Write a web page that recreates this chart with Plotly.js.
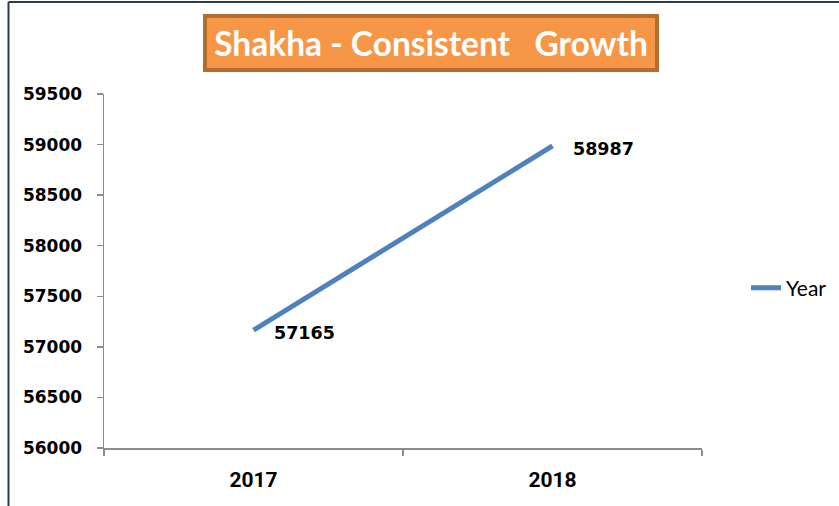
<!DOCTYPE html>
<html>
<head>
<meta charset="utf-8">
<script src="https://cdn.plot.ly/plotly-3.0.1.min.js"></script>
<style>
html,body{margin:0;padding:0;background:#fff;}
#chart{width:839px;height:506px;}
</style>
</head>
<body>
<div id="chart"></div>
<script>
const years = ["2017", "2018"];
const members = [57165, 58987];
const seriesName = "Year";
const chartTitle = "Shakha - Consistent   Growth";
const yTicks = [56000, 56500, 57000, 57500, 58000, 58500, 59000, 59500];

const W = 839, H = 506;
const M = {l: 104, r: 137, t: 94, b: 58, autoexpand: false};
const pw = W - M.l - M.r, ph = H - M.t - M.b;
const px = v => (v - M.l) / pw;
const py = v => (H - M.b - v) / ph;

const trace = {
  x: years, y: members, type: "scatter", mode: "lines", name: seriesName,
  line: {color: "#4F81BD", width: 5}, showlegend: true, hoverinfo: "skip"
};

const labelAnns = years.map((yr, i) => ({
  x: years.indexOf(yr), y: members[i], xref: "x", yref: "y", text: String(members[i]),
  showarrow: false, xanchor: "left", yanchor: "middle", xshift: 18, yshift: -3,
  font: {family: "DejaVu Sans", size: 17.5, color: "#000", weight: "bold"}
}));

const titleAnn = {
  xref: "paper", yref: "paper", x: px(431), y: py(43), xanchor: "center", yanchor: "middle",
  text: chartTitle, showarrow: false,
  font: {family: "Lato", size: 33.5, color: "#fff", weight: "bold"},
  bgcolor: "#F79646", bordercolor: "#B46D31", borderwidth: 4, borderpad: 0,
  width: 448, height: 50, align: "center", valign: "middle"
};

const layout = {
  width: W, height: H,
  margin: M,
  paper_bgcolor: "#fff", plot_bgcolor: "#fff",
  showlegend: true,
  legend: {x: px(746), xanchor: "left", y: py(288), yanchor: "middle",
    font: {family: "Lato", size: 21, color: "#000"}, bgcolor: "rgba(0,0,0,0)",
    itemwidth: 30},
  xaxis: {
    type: "category", range: [-0.5, 1.5], showgrid: false, zeroline: false,
    showline: true, linecolor: "#8C8C8C", linewidth: 1.5,
    ticks: "outside", tickson: "boundaries", ticklen: 6, tickcolor: "#8C8C8C", tickwidth: 1.5,
    tickfont: {family: "Roboto", size: 21, color: "#000", weight: "bold"},
    ticklabelstandoff: 12, fixedrange: true
  },
  yaxis: {
    range: [56000, 59500], tickvals: yTicks, ticktext: yTicks.map(String),
    showgrid: false, zeroline: false,
    showline: true, linecolor: "#8C8C8C", linewidth: 1.5,
    ticks: "outside", ticklen: 6, tickcolor: "#8C8C8C", tickwidth: 1.5,
    tickfont: {family: "DejaVu Sans", size: 17, color: "#000", weight: "bold"},
    ticklabelstandoff: 11, fixedrange: true
  },
  annotations: [titleAnn].concat(labelAnns),
  shapes: [
    {type: "line", xref: "paper", yref: "paper", x0: px(8.5), x1: px(8.5), y0: py(2), y1: py(520),
      line: {color: "#2E3B4A", width: 2}},
    {type: "line", xref: "paper", yref: "paper", x0: px(8.5), x1: px(860), y0: py(2), y1: py(2),
      line: {color: "#2E3B4A", width: 2}}
  ]
};

Plotly.newPlot("chart", [trace], layout, {displayModeBar: false, staticPlot: true});
</script>
</body>
</html>
